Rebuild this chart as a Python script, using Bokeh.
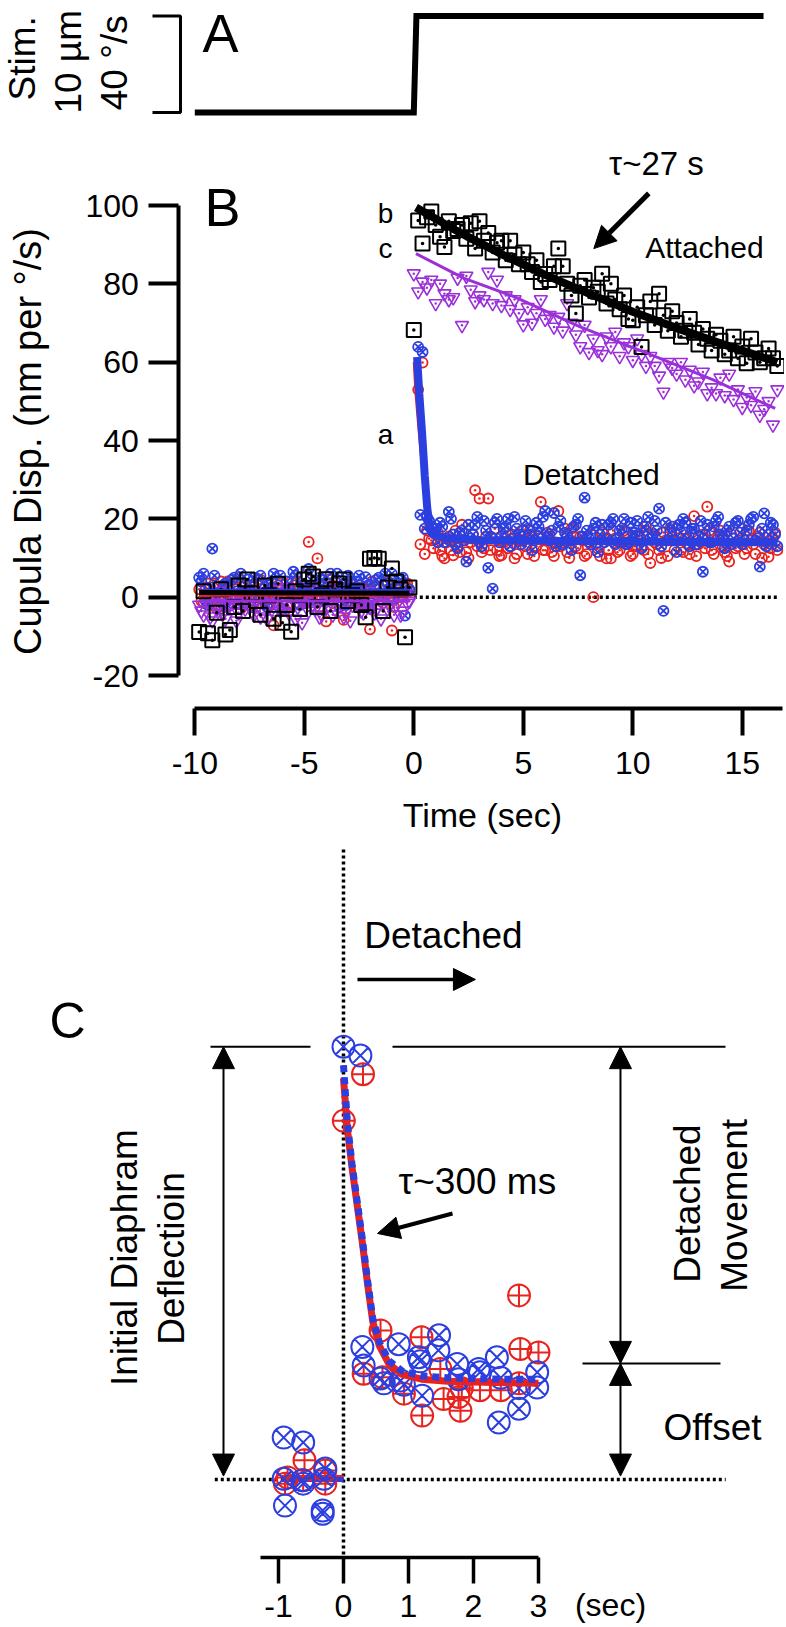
import numpy as np
from bokeh.plotting import figure
from bokeh.layouts import column
from bokeh.models import Range1d, FixedTicker, Arrow, NormalHead
from bokeh.core.properties import value
from bokeh.embed import file_html
from bokeh.resources import INLINE

FONT = "Liberation Sans"
RED = "#e8231f"
BLUE = "#2b3fe0"
PURPLE = "#9b30d8"
INK = "#000000"

# ======================= DATA =======================
# Panel A : stimulus step (deg/s)
stim_t = [-10.0, 0.0, 0.12, 15.97]
stim_v = [0.0, 0.0, 40.0, 40.0]
stim_scale = [0.0, 40.0]          # scale bar 40 deg/s (10 um)

# Panel B : sampling grids (s)
dt = 0.2
t_pre = [round(-9.8 + dt * i, 2) for i in range(49)]
t_pre2 = [round(-9.7 + dt * i, 2) for i in range(48)]
t_post_det = [round(0.2 + dt * i, 2) for i in range(83)]
t_post_det2 = [round(0.3 + dt * i, 2) for i in range(82)]
t_post_att = [round(0.0 + dt * i, 2) for i in range(84)]

# attached (b) - black squares
black_pre = [-8.9, 1.5, -9.2, -11.0, -4.0, 2.0, -9.5, -8.4, -2.5, 3.0,
             -3.5, 4.5, 1.0, -1.0, -4.5, 3.0, 0.5, -5.5, 3.4, -6.5,
             -2.0, -8.8, 1.5, -3.0, 4.5, 6.0, 5.3, -2.5, 0.5, 4.6,
             -3.5, 2.0, 3.5, 4.5, -1.0, 0.5, 1.5, -2.0, -5.1, 9.8,
             10.0, 9.8, -3.5, 2.5, 7.3, 4.0, 2.0, -10.2, 2.5]
black_post = [68.2, 96.2, 90.3, 97.0, 98.5, 95.0, 92.0, 89.4, 96.0, 93.5,
              94.0, 95.0, 91.5, 95.5, 89.0, 96.0, 91.0, 93.0, 88.0, 90.5,
              91.0, 86.0, 91.0, 87.5, 85.0, 88.0, 85.0, 83.0, 86.0, 80.5,
              82.5, 81.0, 84.5, 89.0, 84.5, 80.0, 77.0, 72.4, 79.5, 81.0,
              76.5, 79.0, 78.0, 82.6, 75.0, 80.0, 76.0, 73.5, 77.0, 71.0,
              70.7, 74.0, 63.9, 72.0, 75.5, 69.5, 77.5, 72.0, 68.0, 73.0,
              70.0, 66.5, 68.0, 71.0, 67.5, 64.5, 68.5, 66.0, 63.0, 67.0,
              65.5, 62.0, 63.0, 66.5, 61.0, 64.0, 59.7, 66.0, 62.5, 60.0,
              61.0, 63.5, 61.0, 59.0]

# attached (c) - purple triangles
purple_pre = [-2.0, -4.5, -1.0, -6.0, -3.0, 0.5, -5.5, -2.0, 1.0, -4.0,
              -1.5, 2.0, -3.5, -0.5, -5.0, 1.5, -2.5, -4.0, 0.0, -3.0,
              2.5, -1.5, -5.5, -0.5, 1.0, -3.5, -2.0, 0.5, -4.5, -1.0,
              2.0, -3.0, -0.5, -5.0, 1.5, -2.0, -1.0, -3.5, 0.5, -2.5,
              -4.0, 1.0, -1.5, -3.0, 0.0, -2.0, -4.5, 1.0, -1.0]
purple_pre2 = [-3.5, 0.0, -5.0, -1.5, 1.5, -4.0, -2.5, 0.5, -6.0, -1.0,
               -3.0, 1.0, -4.5, -2.0, 0.0, -5.5, -1.5, 2.0, -3.5, -0.5,
               -4.0, 0.5, -2.5, -6.5, -1.0, 1.5, -3.0, -5.0, 0.0, -2.0,
               -4.5, 1.0, -1.5, -3.5, -6.0, 0.5, -2.5, -4.0, 1.5, -1.0,
               -3.0, -5.5, 0.0, -2.0, -4.5, 1.0, -3.5, -1.5]
purple_post = [82.6, 78.0, 80.5, 79.0, 81.0, 75.0, 80.0, 77.5, 76.0, 76.5,
               81.5, 69.4, 82.0, 78.5, 75.5, 77.0, 76.0, 83.0, 75.0, 81.0,
               74.5, 77.0, 73.5, 76.0, 72.5, 69.6, 74.0, 70.0, 72.5, 76.0,
               71.0, 72.0, 69.0, 71.5, 68.0, 75.0, 70.0, 67.0, 64.0, 69.5,
               62.5, 66.0, 63.0, 62.0, 66.5, 64.0, 67.7, 61.5, 65.0, 64.0,
               60.5, 66.0, 62.0, 59.0, 61.5, 59.0, 56.5, 52.4, 60.0, 58.5,
               57.0, 60.0, 55.5, 58.0, 54.0, 55.0, 57.5, 52.0, 53.5, 52.0,
               56.0, 51.5, 57.0, 50.5, 53.0, 48.5, 51.0, 49.0, 52.5, 46.5,
               48.0, 50.0, 44.0, 53.0]

# detached (a) - blue circles with x
blue_pre = [5.0, 6.0, -2.0, 12.4, 1.0, -3.0, 3.5, 0.0, 5.0, -1.5,
            2.5, 4.5, -2.5, 1.5, 5.5, -1.0, 3.0, 6.0, 0.5, -3.5,
            4.0, 1.0, 5.5, -2.0, 3.0, 7.2, 1.5, -1.0, 4.5, 0.5,
            6.0, 2.0, -2.5, 3.5, 5.5, 0.0, 4.0, 1.5, 5.1, -3.0,
            2.5, 5.0, 0.5, 3.5, 6.0, 1.0, 4.5, -4.7, 2.0]
blue_pre2 = [4.0, -1.0, 2.5, 5.5, 0.0, 3.0, -2.0, 4.5, 1.5, 6.0,
             -1.5, 2.0, 5.0, 0.5, 3.5, -2.5, 4.0, 1.0, 5.5, -0.5,
             2.5, 6.5, 0.0, 3.0, -1.5, 4.5, 2.0, 5.0, -1.0, 3.5,
             0.5, 6.0, 1.5, -2.0, 4.0, 2.5, 5.5, 0.0, 3.0, -1.5,
             4.5, 1.0, 6.0, 2.0, -0.5, 3.5, 5.0, 1.5]
blue_post = [63.9, 62.6, 20.5, 18.0, 17.5, 19.0, 14.0, 21.8, 16.0, 12.5,
             17.0, 9.1, 15.0, 18.5, 14.0, 19.5, 7.5, 2.2, 20.0, 15.5,
             18.0, 13.0, 20.5, 16.0, 14.5, 17.5, 12.0, 19.0, 16.5, 22.0,
             14.5, 21.5, 18.0, 13.5, 16.0, 12.0, 18.5, 5.6, 25.4, 15.0,
             17.5, 11.5, 18.5, 15.0, 19.0, 13.5, 17.0, 20.0, 14.0, 16.5,
             19.5, 12.5, 17.0, 15.0, 19.5, 22.6, -3.5, 14.5, 18.0, 11.5,
             16.5, 19.0, 13.0, 17.5, 15.5, 6.5, 18.5, 14.0, 19.5, 16.0,
             12.5, 18.0, 15.0, 19.5, 13.5, 17.0, 20.0, 14.5, 7.8, 21.4,
             16.0, 18.5, 13.0]
blue_post2 = [21.0, 17.5, 19.5, 16.5, 14.0, 18.0, 15.0, 20.0, 13.5, 16.5,
              14.5, 18.5, 16.0, 20.5, 13.0, 17.0, 15.5, 19.0, 14.0, 17.5,
              20.0, 15.0, 17.5, 13.5, 19.5, 16.0, 14.5, 18.0, 20.5, 15.5,
              17.0, 13.0, 19.5, 16.5, 14.5, 18.0, 20.0, 15.5, 17.0, 13.5,
              19.0, 16.0, 14.0, 18.5, 20.0, 15.0, 17.5, 13.5, 19.0, 16.5,
              14.5, 18.0, 20.5, 15.5, 17.0, 13.0, 19.0, 16.5, 14.5, 18.5,
              20.0, 15.0, 17.5, 13.5, 19.5, 16.0, 14.0, 18.0, 20.5, 15.5,
              17.0, 13.5, 19.0, 16.5, 14.5, 18.5, 20.5, 15.0, 17.5, 13.0,
              19.0, 16.0]

# detached (a) - red circles with dot
red_pre = [2.0, -1.5, 3.5, 0.0, -3.0, 4.0, 1.0, -2.0, 2.5, 5.0,
           -1.0, 1.5, 3.0, -2.5, 4.5, 0.5, -1.5, -7.2, 3.0, 1.0,
           -2.0, 4.0, 0.0, 2.5, -1.5, 14.1, 3.0, 9.9, -0.5, -6.2,
           2.0, 4.0, -1.0, -5.8, 1.5, 3.5, -2.0, 2.5, 0.5, -8.2,
           3.0, 1.0, -1.5, 4.0, -8.5, 2.0, 0.0, 3.5, 1.5]
red_pre2 = [-1.0, 2.5, 0.0, 3.5, -2.5, 1.5, 4.0, -0.5, 2.0, -3.0,
            3.0, 0.5, -1.5, 4.5, 1.0, -2.0, 2.5, 0.0, 3.5, -3.5,
            1.5, -0.5, 4.0, 2.0, -1.0, 0.5, 3.0, -2.5, 1.0, 4.5,
            -1.5, 2.5, 0.0, -3.0, 3.5, 1.5, -0.5, 2.0, -2.0, 4.0,
            0.5, -1.0, 3.0, 1.0, -2.5, 2.5, 0.0, 3.5]
red_post = [53.0, 59.9, 17.0, 14.5, 16.0, 12.0, 9.9, 15.5, 10.7, 13.0,
            18.5, 11.5, 14.0, 27.3, 25.2, 12.5, 25.2, 15.0, 12.0, 10.7,
            16.5, 13.0, 9.9, 14.5, 17.0, 11.0, 15.5, 13.0, 24.3, 12.0,
            16.0, 10.5, 22.0, 14.0, 11.5, 17.5, 13.0, 15.5, 10.5, 14.0,
            0.0, 12.5, 16.5, 9.9, 9.9, 15.0, 12.0, 17.0, 13.5, 11.0,
            15.5, 13.0, 18.0, 8.7, 14.0, 12.0, 16.5, 10.5, 14.5, 17.5,
            12.0, 15.0, 11.0, 20.7, 13.5, 16.0, 23.1, 12.0, 14.5, 17.0,
            11.5, 9.1, 15.0, 13.0, 17.5, 12.5, 14.5, 11.0, 16.5, 13.5,
            10.3, 15.0, 12.0]
red_post2 = [13.5, 11.0, 15.0, 12.5, 16.5, 10.5, 14.0, 12.0, 17.0, 11.5,
             14.5, 10.0, 16.0, 13.0, 11.5, 15.5, 12.0, 17.5, 10.5, 14.0,
             12.5, 16.0, 11.0, 14.5, 13.0, 17.0, 10.5, 15.0, 12.0, 16.5,
             11.5, 14.0, 13.0, 17.5, 10.0, 15.5, 12.5, 14.5, 11.0, 16.0,
             13.5, 10.5, 15.0, 12.0, 17.0, 11.5, 14.0, 16.5, 10.5, 13.0,
             15.5, 12.0, 11.0, 16.0, 13.5, 10.0, 14.5, 17.5, 12.0, 15.0,
             11.5, 13.5, 16.5, 10.5, 14.0, 12.5, 17.0, 11.0, 15.5, 13.0,
             10.5, 16.0, 12.5, 14.5, 11.0, 17.0, 13.5, 15.5, 10.0, 14.0,
             12.5, 16.5]

# fitted curves
fit_b_t = [0.1, 2, 4, 6, 8, 10, 12, 14, 16.6]
fit_b_v = [99.5, 93.4, 87.6, 82.3, 77.5, 72.9, 68.7, 64.8, 60.0]
fit_c_t = [0.1, 2.3, 4.6, 7.6, 10.7, 13.7, 16.5]
fit_c_v = [87.7, 81.4, 76.7, 69.0, 62.2, 55.4, 48.2]
fit_a_blue_t = [0.15, 0.25, 0.38, 0.5, 0.61, 0.7, 0.8, 1.0, 1.5, 3, 6, 10, 16.6]
fit_a_blue_v = [61.3, 52.0, 41.8, 31.0, 23.0, 19.0, 17.0, 15.8, 15.0, 14.6, 14.4, 14.2, 14.0]
fit_a_red_t = [0.02, 0.1, 0.25, 0.4, 0.55, 0.7, 0.85, 1.0, 1.5, 3, 6, 10, 16.6]
fit_a_red_v = [60.0, 52.0, 42.0, 33.0, 25.0, 19.5, 16.5, 15.0, 14.2, 13.9, 13.8, 13.7, 13.6]
pre_fit_t = [-9.8, -0.2]
pre_fit_black = [1.2, 1.0]
pre_fit_blue = [1.5, 1.5]
pre_fit_red = [0.5, 0.5]
pre_fit_purple = [-1.0, -1.0]
zero_t = [0.0, 16.6]
b_yticks = [-20, 0, 20, 40, 60, 80, 100]
b_xticks = [-10, -5, 0, 5, 10, 15]

# Panel C : detached response, expanded time (s)
c_red_t = [-0.9, -0.86, -0.62, -0.6, -0.28, -0.28, 0.005, 0.30, 0.31, 0.57, 0.60, 0.93,
           1.20, 1.21, 1.49, 1.54, 1.77, 1.80, 1.82, 2.10, 2.42, 2.70, 2.72, 2.70, 3.00]
c_red_v = [-0.6, 0.3, -0.1, 2.8, -0.6, 1.3, 52.2, 59.0, 15.4, 21.7, 14.9, 12.5,
           20.7, 9.3, 16.1, 11.7, 12.0, 10.0, 13.3, 13.0, 13.0, 26.8, 19.0, 14.0, 18.5]
c_blue_t = [-0.92, -0.62, -0.92, -0.62, -0.28, -0.9, -0.32, -0.32, -0.63, -0.3, 0.0, 0.26,
            0.29, 0.31, 0.57, 0.62, 0.85, 0.88, 0.93, 1.16, 1.18, 1.21, 1.47, 1.46, 1.75,
            1.77, 2.08, 2.10, 2.36, 2.42, 2.39, 2.70, 2.70, 2.98, 2.98]
c_blue_v = [6.1, 5.4, 0.1, -0.6, 1.6, -3.8, -4.5, -5.0, -0.1, 0.1, 63.0, 61.7,
            19.3, 16.6, 14.7, 14.0, 19.7, 14.4, 13.8, 17.8, 17.2, 12.2, 21.0, 18.8, 16.8,
            14.6, 16.1, 15.6, 17.8, 14.8, 8.3, 10.3, 13.3, 15.6, 13.4]
c_fit_t = [0.0, 0.06, 0.13, 0.21, 0.29, 0.37, 0.45, 0.55, 0.7, 0.9, 1.2, 1.6, 2.0, 2.5, 3.0]
c_fit_red = [58.4, 51.0, 45.5, 40.0, 34.5, 28.5, 23.0, 19.5, 16.8, 15.3, 14.6, 14.3, 14.2, 14.1, 14.0]
c_fit_blue = [60.3, 52.0, 46.0, 40.5, 35.0, 29.0, 23.5, 20.0, 17.3, 15.8, 15.1, 14.8, 14.7, 14.6, 14.6]
c_pre_t = [-0.95, 0.0]
c_pre_red = [0.3, 0.3]
c_pre_blue = [0.0, 0.0]
c_peak = 63.0       # initial diaphragm deflection level
c_plateau = 16.9    # offset level
c_ticks = [-1, 0, 1, 2, 3]

# ======================= FIGURES =======================
W = 784
XR_AB = (-18.872, 16.927)     # shared time window of panels A and B


def bare(p):
    p.outline_line_color = None
    p.background_fill_color = "white"
    p.border_fill_color = "white"
    for g in list(p.xgrid) + list(p.ygrid):
        g.visible = False


def style_axis(ax, tick_out, standoff, width=4):
    ax.axis_line_width = width
    ax.axis_line_color = INK
    ax.major_tick_line_width = width
    ax.major_tick_line_color = INK
    ax.major_tick_in = 0
    ax.major_tick_out = tick_out
    ax.minor_tick_line_color = None
    ax.major_label_standoff = standoff
    ax.major_label_text_font = FONT
    ax.major_label_text_font_size = "32px"
    ax.major_label_text_color = INK


def overrides(ticks):
    return {t: str(t) for t in ticks if t < 0}


def txt(p, x, y, s, size, angle=0.0, align="center"):
    p.text(x=[x], y=[y], text=[s], angle=angle, text_align=align, text_baseline="middle",
           text_font=value(FONT), text_font_size=value(size), text_color=INK)


def frame_only(**kw):
    return figure(output_backend="svg", toolbar_location=None,
                  min_border_left=0, min_border_right=0, min_border_top=0, min_border_bottom=0,
                  **kw)


# ---------- Panel A ----------
pA = frame_only(width=W, height=140, x_range=Range1d(*XR_AB), y_range=Range1d(-11.55, 46.39),
                x_axis_location=None, y_axis_location=None)
bare(pA)
pA.line(stim_t, stim_v, line_width=6, line_color=INK, line_join="miter")
bx0, bx1 = -11.932, -10.653
pA.line([bx0, bx1, bx1, bx0], [stim_scale[1], stim_scale[1], stim_scale[0], stim_scale[0]],
        line_width=3, line_color=INK)
txt(pA, -17.868, 22.47, "Stim.", "37px", angle=np.pi / 2)
txt(pA, -15.767, 21.03, "10 µm", "37px", angle=np.pi / 2)
txt(pA, -13.667, 20.62, "40 °/s", "37px", angle=np.pi / 2)
txt(pA, -8.827, 32.8, "A", "54px")

# ---------- Panel B ----------
pB = frame_only(width=W, height=698, x_range=Range1d(*XR_AB), y_range=Range1d(-61.61, 116.6))
bare(pB)
style_axis(pB.yaxis[0], 30, 10)
style_axis(pB.xaxis[0], 27, 16)
pB.yaxis.fixed_location = -10.732
pB.yaxis.bounds = (-20, 100)
pB.yaxis.ticker = FixedTicker(ticks=b_yticks, minor_ticks=[])
pB.yaxis.major_label_overrides = overrides(b_yticks)
pB.xaxis.fixed_location = -28.49
pB.xaxis.bounds = (-10, 16.84)
pB.xaxis.ticker = FixedTicker(ticks=b_xticks, minor_ticks=[])
pB.xaxis.major_label_overrides = overrides(b_xticks)

pB.line(zero_t, [0, 0], line_color=INK, line_width=3.5, line_dash="3 3")

mk = dict(fill_color=None, line_width=1.8)
for tt, vv in [(t_pre, red_pre), (t_pre2, red_pre2), (t_post_det, red_post), (t_post_det2, red_post2)]:
    pB.scatter(tt, vv, marker="circle_dot", size=10, line_color=RED, **mk)
for tt, vv in [(t_pre, blue_pre), (t_pre2, blue_pre2), (t_post_det, blue_post), (t_post_det2, blue_post2)]:
    pB.scatter(tt, vv, marker="circle_x", size=10, line_color=BLUE, **mk)
for tt, vv in [(t_pre, purple_pre), (t_pre2, purple_pre2), (t_post_att, purple_post)]:
    pB.scatter(tt, vv, marker="inverted_triangle", size=13, line_color=PURPLE, fill_color=None,
               line_width=1.6)
    pB.scatter(tt, vv, marker="circle", size=2.5, fill_color=PURPLE, line_color=None)
pB.scatter(t_pre, black_pre, marker="square_dot", size=14, line_color=INK, fill_color=None, line_width=2)
pB.scatter(t_post_att, black_post, marker="square_dot", size=14, line_color=INK, fill_color=None, line_width=2)

pB.line(pre_fit_t, pre_fit_red, line_color=RED, line_width=3)
pB.line(pre_fit_t, pre_fit_purple, line_color=PURPLE, line_width=3)
pB.line(pre_fit_t, pre_fit_blue, line_color=BLUE, line_width=5)
pB.line(pre_fit_t, pre_fit_black, line_color=INK, line_width=5)
pB.line(fit_a_red_t, fit_a_red_v, line_color=RED, line_width=3)
pB.line(fit_a_blue_t, fit_a_blue_v, line_color=BLUE, line_width=8)
pB.line(fit_c_t, fit_c_v, line_color=PURPLE, line_width=3)
pB.line(fit_b_t, fit_b_v, line_color=INK, line_width=8)

txt(pB, -17.594, 39.75, "Cupula Disp. (nm per °/s)", "38px", angle=np.pi / 2)
txt(pB, 3.13, -55.6, "Time (sec)", "34px")
txt(pB, -8.735, 99.6, "B", "54px")
txt(pB, -1.292, 98.0, "b", "28px")
txt(pB, -1.292, 89.1, "c", "28px")
txt(pB, -1.292, 41.6, "a", "28px")
txt(pB, 11.08, 110.8, "τ~27 s", "33px")
txt(pB, 13.27, 89.4, "Attached", "30px")
txt(pB, 8.11, 31.4, "Detatched", "30px")
pB.add_layout(Arrow(x_start=10.73, y_start=103.1, x_end=8.22, y_end=89.0, line_width=5,
                    line_color=INK, start=None,
                    end=NormalHead(size=22, fill_color=INK, line_color=INK)))

# ---------- Panel C ----------
pC = frame_only(width=W, height=787, x_range=Range1d(-5.277, 6.785), y_range=Range1d(-21.25, 93.3),
                y_axis_location=None)
bare(pC)
style_axis(pC.xaxis[0], 26, 12, width=3.5)
pC.xaxis.fixed_location = -11.35
pC.xaxis.bounds = (-1.28, 3.0)
pC.xaxis.ticker = FixedTicker(ticks=c_ticks, minor_ticks=[])
pC.xaxis.major_label_overrides = overrides(c_ticks)

# reference lines
pC.line([-1.98, 5.88], [0, 0], line_color=INK, line_width=3.5, line_dash="3 3")
pC.line([0, 0], [91.7, -11.35], line_color=INK, line_width=3.5, line_dash="3 3")
pC.multi_line(xs=[[-2.046, -0.508], [0.754, 5.877], [3.677, 5.8]],
              ys=[[c_peak, c_peak], [c_peak, c_peak], [c_plateau, c_plateau]],
              line_color=INK, line_width=2)

# data
pC.line(c_pre_t, c_pre_red, line_color=RED, line_width=5)
pC.line(c_pre_t, c_pre_blue, line_color=BLUE, line_width=5)
pC.scatter(c_red_t, c_red_v, marker="circle_cross", size=22, line_color=RED, fill_color=None, line_width=2)
pC.scatter(c_blue_t, c_blue_v, marker="circle_x", size=22, line_color=BLUE, fill_color=None, line_width=2)
pC.line(c_fit_t, c_fit_red, line_color=RED, line_width=7)
pC.line(c_fit_t, c_fit_blue, line_color=BLUE, line_width=7, line_dash="7 5")


def head():
    return NormalHead(size=22, fill_color=INK, line_color=INK)


for (x0, y0, x1, y1) in [(-1.846, 0.5, -1.846, c_peak), (4.2615, c_plateau, 4.2615, c_peak),
                         (4.2615, 0.5, 4.2615, c_plateau)]:
    pC.add_layout(Arrow(x_start=x0, y_start=y0, x_end=x1, y_end=y1, line_width=2, line_color=INK,
                        start=head(), end=head()))
pC.add_layout(Arrow(x_start=0.215, y_start=72.78, x_end=2.03, y_end=72.78, line_width=3.5,
                    line_color=INK, start=None, end=head()))
pC.add_layout(Arrow(x_start=1.677, y_start=38.72, x_end=0.523, y_end=35.81, line_width=4,
                    line_color=INK, start=None, end=head()))

txt(pC, -4.246, 66.8, "C", "50px")
txt(pC, 1.538, 79.2, "Detached", "37px")
txt(pC, 2.06, 43.4, "τ~300 ms", "37px")
txt(pC, 5.677, 7.57, "Offset", "37px")
txt(pC, -3.369, 32.3, "Initial Diaphram", "37px", angle=np.pi / 2)
txt(pC, -2.646, 32.17, "Deflectioin", "37px", angle=np.pi / 2)
txt(pC, 5.292, 40.17, "Detached", "37px", angle=np.pi / 2)
txt(pC, 6.015, 39.9, "Movement", "37px", angle=np.pi / 2)
txt(pC, 4.108, -18.2, "(sec)", "32px")

layout = column(pA, pB, pC)
open("out.html", "w").write(file_html(layout, INLINE))
